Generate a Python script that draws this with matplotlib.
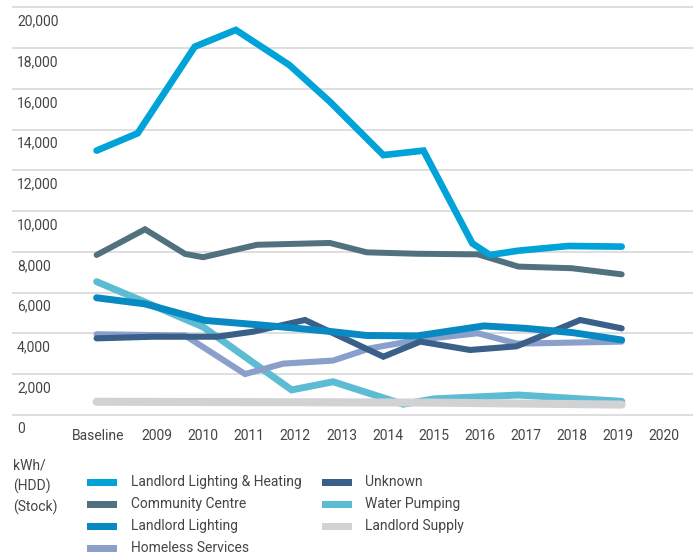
import matplotlib
matplotlib.use("Agg")
import matplotlib.pyplot as plt
from matplotlib.transforms import offset_copy, blended_transform_factory
from matplotlib.patches import Rectangle

plt.rcParams['font.family'] = ['Roboto', 'DejaVu Sans']

# ---------------- data (x positions are fractional positions on the year axis) ----------------
tick_positions = [2007.72, 2009, 2010, 2011, 2012, 2013, 2014, 2015, 2016, 2017, 2018, 2019, 2020]
tick_labels = ["Baseline", "2009", "2010", "2011", "2012", "2013", "2014", "2015",
               "2016", "2017", "2018", "2019", "2020"]
y_ticks = [0, 2000, 4000, 6000, 8000, 10000, 12000, 14000, 16000, 18000, 20000]

llh_x = [2007.69, 2008.58, 2009.82, 2010.71, 2011.87, 2012.75, 2013.91, 2014.78, 2015.84, 2016.22, 2016.84, 2017.92, 2019.08]
llh_y = [12970, 13820, 18070, 18890, 17170, 15370, 12750, 12970, 8420, 7850, 8060, 8290, 8260]

cc_x = [2007.69, 2008.74, 2009.61, 2010.00, 2011.17, 2012.75, 2013.55, 2014.64, 2015.96, 2016.84, 2018.00, 2019.08]
cc_y = [7850, 9110, 7900, 7740, 8350, 8440, 7980, 7910, 7880, 7280, 7200, 6900]

ll_x = [2007.69, 2008.74, 2010.04, 2011.38, 2012.75, 2013.55, 2014.64, 2016.09, 2017.00, 2018.02, 2019.08]
ll_y = [5750, 5450, 4640, 4390, 4100, 3900, 3880, 4370, 4250, 4040, 3680]

unk_x = [2007.69, 2008.91, 2010.30, 2011.09, 2012.21, 2013.91, 2014.71, 2015.79, 2016.80, 2018.18, 2019.08]
unk_y = [3760, 3840, 3840, 4090, 4660, 2860, 3600, 3190, 3370, 4660, 4250]

hs_x = [2007.69, 2009.61, 2010.91, 2011.74, 2012.82, 2013.62, 2014.71, 2015.96, 2016.81, 2019.08]
hs_y = [3960, 3900, 2010, 2520, 2670, 3270, 3700, 4010, 3500, 3600]

wp_x = [2007.69, 2008.74, 2010.00, 2011.92, 2012.82, 2014.34, 2015.00, 2016.84, 2019.08]
wp_y = [6540, 5540, 4320, 1230, 1630, 530, 790, 980, 670]

ls_x = [2007.69, 2014.92, 2019.08]
ls_y = [650, 610, 510]

series_names = ["Landlord Lighting & Heating", "Community Centre", "Landlord Lighting",
                "Homeless Services", "Unknown", "Water Pumping", "Landlord Supply"]
series_x = [llh_x, cc_x, ll_x, hs_x, unk_x, wp_x, ls_x]
series_y = [llh_y, cc_y, ll_y, hs_y, unk_y, wp_y, ls_y]
colors = ["#00a3d7", "#51717f", "#0989c2", "#8a9fc9", "#3a5f88", "#5bbcd4", "#d1d2d4"]
widths = [4.8, 4.3, 5.0, 4.4, 4.4, 5.0, 5.8]
zorders = [9, 8, 6, 4, 5, 3, 4.5]

# ---------------- figure / layout ----------------
W, H = 693, 556
fig = plt.figure(figsize=(W / 100, H / 100), dpi=100)
px_per_unit = 20.385 / 1000.0
y0_px = 415.0
ymin, ymax = -300, 20300
ax_bot = y0_px - ymin * px_per_unit
ax_top = y0_px - ymax * px_per_unit
ax = fig.add_axes([12 / W, 1 - ax_bot / H, (693 - 12) / W, (ax_bot - ax_top) / H])
ax.set_ylim(ymin, ymax)
ax.set_xlim(2009 + (12 - 157) / 46.1, 2009 + (693 - 157) / 46.1)
for s in ax.spines.values():
    s.set_visible(False)
ax.set_facecolor("white")

for v in y_ticks:
    ax.axhline(v, color="#d5d5d5", lw=1.1, zorder=1)

text_color = "#454545"
fs = 10

# y tick labels, drawn just below each gridline, left-aligned inside the plot
ax.set_yticks([])
trans_y = blended_transform_factory(ax.transAxes, ax.transData)
trans_y = offset_copy(trans_y, fig=fig, x=5 / 100 * 72, y=-14 / 100 * 72, units="points")
for v in y_ticks:
    ax.text(0, v, f"{v:,}", transform=trans_y, ha="left", va="center",
            fontsize=fs, color=text_color)

ax.set_xticks(tick_positions)
ax.set_xticklabels(tick_labels, fontsize=fs, color=text_color)
ax.tick_params(axis="x", length=0, pad=6)

for x, y, c, w, z in zip(series_x, series_y, colors, widths, zorders):
    ax.plot(x, y, color=c, lw=w, solid_capstyle="round", solid_joinstyle="miter", zorder=z)

# ---------------- legend (manual) ----------------
def fx(px):
    return px / W

def fy(py):
    return 1 - py / H

for i, line in enumerate(["kWh/", "(HDD)", "(Stock)"]):
    fig.text(fx(13), fy(466 + 20.5 * i), line, ha="left", va="center",
             fontsize=fs, color=text_color)

row_y = [482, 504, 526, 548]
for i, (name, c) in enumerate(zip(series_names, colors)):
    col = 0 if i < 4 else 1
    row = i if i < 4 else i - 4
    sx = 87 if col == 0 else 322
    tx = 131 if col == 0 else 365
    yy = row_y[row]
    fig.add_artist(Rectangle((fx(sx), fy(yy + 3.5)), 30 / W, 7 / H,
                             transform=fig.transFigure, color=c, lw=0))
    fig.text(fx(tx), fy(yy), name, ha="left", va="center", fontsize=fs, color=text_color)

fig.savefig("out.png", dpi=100)
